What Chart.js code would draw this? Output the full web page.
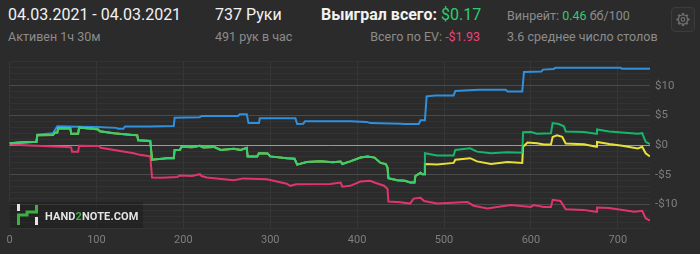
<!DOCTYPE html>
<html>
<head>
<meta charset="utf-8">
<script src="https://cdn.jsdelivr.net/npm/chart.js@4.4.1/dist/chart.umd.min.js"></script>
<style>
  html, body { margin: 0; padding: 0; background: #2b2b2b; }
  body { width: 700px; height: 254px; position: relative; overflow: hidden; font-family: Roboto, "Noto Sans", sans-serif; }
  .t { position: absolute; white-space: nowrap; line-height: 1; }
  .big { font-size: 16px; color: #f2f2f2; }
  .small { font-size: 12.5px; color: #8c8c8c; }
  .green { color: #2ecc71; }
  .pink { color: #e8457a; }
  #wrap { position: absolute; left: 0; top: 50px; width: 700px; height: 204px; }
  #mark { position: absolute; left: 9px; top: 202px; width: 134px; height: 26px; background: rgba(15,15,15,0.3); }
  #mark span { position: absolute; left: 36px; top: 8px; font: bold 11px Roboto, sans-serif; color: #e4e4e4; letter-spacing: 0.1px; }
  #gear { position: absolute; left: 671px; top: 7px; width: 22px; height: 23px; border: 1px solid #3c3c3c; border-radius: 4px; background: #2e2e2e; }
</style>
</head>
<body>
<div class="t big" style="left:8px;top:7px">04.03.2021 - 04.03.2021</div>
<div class="t small" style="left:8px;top:31px">Активен 1ч 30м</div>
<div class="t big" style="left:215px;top:7px">737 Руки</div>
<div class="t small" style="left:215px;top:31px">491 рук в час</div>
<div class="t big" style="left:321px;top:7px"><b>Выиграл всего:</b> <span class="green">$0.17</span></div>
<div class="t small" style="right:220px;top:31px">Всего по EV: <span class="pink">-$1.93</span></div>
<div class="t small" style="left:507px;top:10px">Винрейт: <span class="green">0.46</span> бб/100</div>
<div class="t small" style="left:507px;top:31px">3.6 среднее число столов</div>
<div id="gear">
  <svg width="22" height="23" viewBox="0 0 22 23">
    <g stroke="#707070" fill="none">
      <circle cx="11" cy="11.5" r="4.6" stroke-width="1.3"/>
      <circle cx="11" cy="11.5" r="1.8" stroke-width="1.2"/>
      <g stroke-width="2.2">
        <line x1="11" y1="5" x2="11" y2="6.6"/><line x1="11" y1="16.4" x2="11" y2="18"/>
        <line x1="4.5" y1="11.5" x2="6.1" y2="11.5"/><line x1="15.9" y1="11.5" x2="17.5" y2="11.5"/>
        <line x1="6.4" y1="6.9" x2="7.5" y2="8"/><line x1="14.5" y1="15" x2="15.6" y2="16.1"/>
        <line x1="15.6" y1="6.9" x2="14.5" y2="8"/><line x1="7.5" y1="15" x2="6.4" y2="16.1"/>
      </g>
    </g>
  </svg>
</div>
<div id="wrap"><canvas id="graph" width="700" height="204"></canvas></div>
<div id="mark">
  <svg width="34" height="26" viewBox="0 0 34 26" style="position:absolute;left:0;top:0">
    <rect x="8" y="2" width="3" height="7" fill="#e4e4e4"/>
    <polyline points="9.5,23 9.5,13 18,13 18,10 27.5,10 27.5,3" stroke="#3cb043" stroke-width="3" fill="none"/>
    <rect x="26" y="15" width="3" height="8" fill="#e4e4e4"/>
  </svg>
  <span>HAND<span style="position:static;color:#3cb043;font:inherit">2</span>NOTE.COM</span>
</div>
<script>
// net won (green)
const netHands = [0,31,32,50,52,55,56,70,71,79,80,88,96,102,104,120,135,147,148,162,164,181,189,190,196,198,210,219,223,235,243,258,266,273,274,285,287,297,300,319,328,331,342,358,372,381,383,392,404,412,420,427,433,435,436,446,455,461,466,467,473,475,477,478,492,511,513,530,538,554,573,590,591,600,607,623,625,632,638,640,661,675,676,690,723,728,732,737];
const netWon = [0.3,0.55,1.64,1.7,2.07,2.1,2.84,2.8,1.9,1.9,2.95,2.85,2.75,2.62,2.34,2.0,1.8,1.64,0.82,0.7,-2.46,-2.2,-2.2,-0.82,-0.82,-0.28,-0.35,-0.11,-0.4,-0.3,-0.82,-0.6,-0.82,-0.45,-1.92,-1.92,-1.37,-1.4,-1.9,-2.2,-2.3,-3.28,-2.85,-2.7,-2.9,-2.75,-3.18,-2.74,-2.08,-1.92,-2.1,-3.0,-3.2,-3.8,-5.57,-5.9,-6.0,-6.3,-6.3,-5.2,-4.66,-4.9,-4.9,-1.37,-1.75,-1.75,-0.82,-0.55,-1.1,-1.37,-1.2,-1.3,2.18,2.2,1.9,2.0,3.7,3.55,3.16,2.3,2.2,1.9,2.62,2.3,1.9,2.0,0.54,0.17];

// all-in EV (yellow)
const evHands = [0,31,32,50,52,55,56,70,71,79,80,88,96,102,104,120,135,147,148,162,164,181,189,190,196,198,210,219,223,235,243,258,266,273,274,285,287,297,300,319,328,331,342,358,372,381,383,392,404,412,420,427,433,435,436,446,455,461,466,467,473,475,477,478,492,511,513,530,538,554,573,590,591,596,607,615,623,625,630,636,640,661,675,676,690,705,723,728,732,737];
const evWon = [0.3,0.55,1.64,1.7,2.07,2.1,2.84,2.8,1.9,1.9,2.95,2.85,2.75,2.62,2.34,2.0,1.8,1.64,0.82,0.7,-2.46,-2.2,-2.2,-0.82,-0.82,-0.28,-0.35,-0.11,-0.4,-0.3,-0.82,-0.6,-0.82,-0.45,-1.92,-1.92,-1.37,-1.4,-1.9,-2.2,-2.3,-3.28,-2.85,-2.7,-2.9,-2.75,-3.18,-2.74,-2.08,-1.92,-2.1,-3.0,-3.2,-3.8,-5.57,-5.9,-6.0,-6.3,-6.3,-5.2,-4.66,-4.9,-4.9,-3.18,-3.28,-3.0,-2.46,-2.2,-2.74,-3.18,-2.85,-3.0,-0.28,0.43,0.3,0.1,0.1,1.36,1.64,1.4,0.26,0.15,-0.28,0.54,0.2,-0.1,-0.55,-0.28,-1.37,-1.93];

// showdown (blue)
const sdHands = [0,10,31,32,50,55,80,100,123,125,131,133,160,189,190,219,221,263,265,273,275,287,288,329,331,338,340,392,411,415,450,455,471,473,478,480,490,511,513,540,571,573,590,592,612,614,626,628,703,705,737];
const sdWon = [0.3,0.5,0.55,1.75,2.0,3.15,3.1,3.05,2.9,2.75,2.75,3.15,3.15,3.2,4.6,4.7,4.9,4.9,5.2,5.2,3.7,3.7,4.5,4.5,3.55,3.6,4.0,4.0,3.9,3.7,3.6,3.55,3.55,4.2,4.2,8.2,8.35,8.35,9.1,9.3,9.3,9.0,9.0,12.3,12.4,12.7,12.8,13.0,13.0,12.85,12.85];

// non-showdown (red)
const nsdHands = [0,30,66,71,72,79,80,103,105,143,150,162,164,175,193,196,210,219,221,227,258,269,296,319,323,330,369,381,383,392,404,415,420,431,435,436,450,461,465,473,477,492,527,534,550,561,577,600,603,615,623,625,634,640,660,675,676,690,719,728,732,737];
const nsdWon = [0.1,-0.1,-0.3,-0.4,-1.1,-1.1,-0.1,-0.15,-0.44,-1.37,-1.64,-1.9,-5.45,-5.5,-5.36,-5.1,-5.2,-4.9,-5.2,-5.45,-5.9,-5.6,-5.74,-6.5,-6.85,-6.6,-6.55,-6.3,-7.0,-6.85,-6.13,-6.0,-6.3,-6.84,-7.4,-9.5,-9.6,-9.84,-9.0,-8.85,-9.4,-9.84,-9.57,-10.2,-10.66,-10.4,-10.1,-10.4,-10.1,-10.4,-10.4,-9.2,-9.4,-10.8,-10.9,-11.2,-10.5,-10.6,-11.2,-11.05,-12.3,-12.7];

const handTicks = 100;
const dollarMin = -14, dollarMax = 14;

function pts(h, v) {
  return h.map((x, i) => ({ x: x, y: v[i] }));
}

function line(label, h, v, color, order) {
  return {
    label: label,
    data: pts(h, v),
    borderColor: color,
    borderWidth: 2,
    pointRadius: 0,
    tension: 0,
    fill: false,
    order: order
  };
}

const data = {
  datasets: [
    line('Net won', netHands, netWon, 'rgba(20, 205, 120, 0.85)', 0),
    line('All-in EV', evHands, evWon, '#e8e03a', 1),
    line('Showdown', sdHands, sdWon, '#3090e0', 2),
    line('Non-showdown', nsdHands, nsdWon, '#e0356c', 3)
  ]
};

const config = {
  type: 'line',
  data: data,
  options: {
    responsive: false,
    animation: false,
    layout: { padding: { left: 9.5, top: 7.3, right: 0, bottom: 0 } },
    plugins: { legend: { display: false }, tooltip: { enabled: false } },
    scales: {
      x: {
        type: 'linear',
        min: 0,
        max: 737,
        ticks: {
          stepSize: handTicks,
          includeBounds: false,
          maxRotation: 0,
          color: '#7f7f7f',
          font: { family: 'Roboto', size: 11 },
          padding: 5
        },
        grid: { color: '#363636', drawTicks: false },
        border: { display: false },
        afterFit: s => { s.height = 25.7; }
      },
      y: {
        position: 'right',
        min: dollarMin,
        max: dollarMax,
        ticks: {
          stepSize: 1,
          autoSkip: false,
          color: '#7f7f7f',
          font: { family: 'Roboto', size: 11.5 },
          padding: 5,
          callback: v => v % 5 !== 0 ? '' : (v < 0 ? '-$' + (-v) : '$' + v)
        },
        grid: {
          drawTicks: false,
          color: c => {
            const v = c.tick.value;
            if (v === 0) return '#9a9a9a';
            if (v % 5 === 0) return '#4a4a4a';
            return '#333333';
          }
        },
        border: { display: false },
        afterFit: s => { s.width = 50; }
      }
    }
  }
};

new Chart(document.getElementById('graph'), config);
</script>
</body>
</html>
